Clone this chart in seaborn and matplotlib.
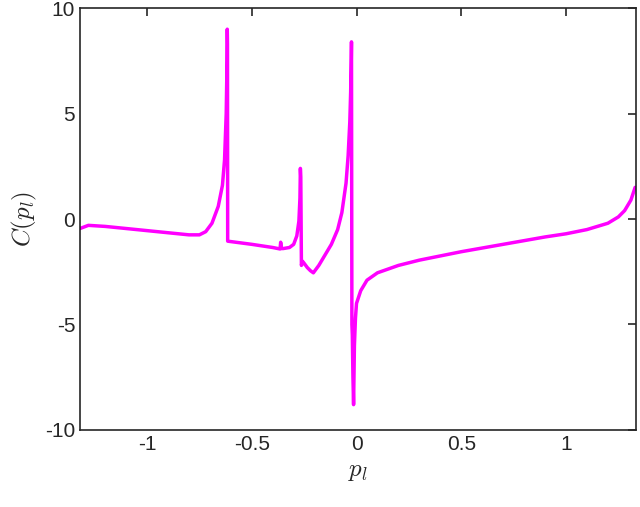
import matplotlib
matplotlib.use("Agg")
import matplotlib.pyplot as plt
import seaborn as sns
import pandas as pd

px = [-1.32,-1.28,-1.2,-1.1,-1.0,-0.9,-0.8,-0.75,-0.72,-0.69,-0.66,-0.64,-0.63,-0.622,-0.618,-0.617,-0.616,-0.615,
      -0.5,-0.4,-0.365,-0.362,-0.358,-0.35,
      -0.32,-0.3,-0.285,-0.275,-0.27,-0.268,-0.266,-0.263,
      -0.258,-0.25,-0.235,-0.22,-0.206,
      -0.18,-0.15,-0.12,-0.09,-0.07,-0.05,-0.04,-0.032,-0.028,-0.025,-0.024,-0.022,-0.02,-0.017,-0.014,
      -0.01,-0.005,0.0,0.02,0.05,0.1,0.2,0.3,0.5,0.7,0.9,1.0,1.1,1.2,1.25,1.28,1.31,1.33]
cp = [-0.45,-0.3,-0.35,-0.45,-0.55,-0.65,-0.75,-0.75,-0.6,-0.2,0.6,1.6,2.8,5.0,7.5,9.0,8.3,-1.05,
      -1.2,-1.35,-1.42,-1.1,-1.4,-1.4,
      -1.35,-1.2,-0.8,-0.1,1.0,2.4,2.0,-2.2,
      -2.0,-2.1,-2.3,-2.45,-2.55,
      -2.2,-1.7,-1.2,-0.5,0.3,1.7,3.0,4.6,6.0,7.6,8.4,-5.0,-5.5,-7.5,-8.8,
      -6.0,-4.7,-4.0,-3.4,-2.9,-2.55,-2.2,-1.95,-1.55,-1.2,-0.85,-0.7,-0.5,-0.2,0.1,0.4,0.9,1.5]
xticks = [-1, -0.5, 0, 0.5, 1]
xticklabels = ["-1", "-0.5", "0", "0.5", "1"]
yticks = [-10, -5, 0, 5, 10]
yticklabels = ["-10", "-5", "0", "5", "10"]

sns.set_style("white")
plt.rcParams['font.family'] = ['Liberation Sans', 'DejaVu Sans']
plt.rcParams['mathtext.fontset'] = 'cm'
df = pd.DataFrame({"p": px, "C": cp})
fig, ax = plt.subplots(figsize=(6.4, 5.07), dpi=100)
fig.subplots_adjust(left=0.125, right=0.994, top=0.984, bottom=0.152)
sns.lineplot(data=df, x="p", y="C", ax=ax, color="#ff00ff", lw=2.5, sort=False, estimator=None)
ax.set_xlim(-1.32, 1.335)
ax.set_ylim(-10, 10)
ax.set_xticks(xticks); ax.set_xticklabels(xticklabels)
ax.set_yticks(yticks); ax.set_yticklabels(yticklabels)
ax.tick_params(direction="in", length=6, width=1.2, labelsize=15, top=True, right=True, colors="#262626")
for s in ax.spines.values():
    s.set_color("#262626"); s.set_linewidth(1.2)
ax.set_xlabel("$p_l$", fontsize=18)
ax.set_ylabel("$C(p_l)$", fontsize=18)
fig.savefig("out.png", dpi=100)
